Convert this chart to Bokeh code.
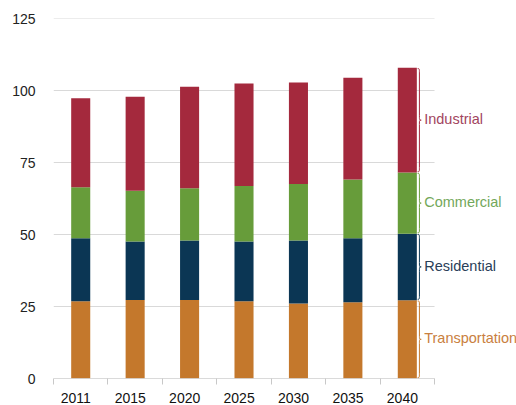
from bokeh.plotting import figure
from bokeh.models import Range1d, FixedTicker, ColumnDataSource
from bokeh.core.properties import value
from bokeh.embed import file_html
from bokeh.resources import INLINE

# Energy consumption by sector (quadrillion Btu), stacked by year
years = ["2011", "2015", "2020", "2025", "2030", "2035", "2040"]
transportation = [26.8, 27.3, 27.3, 26.8, 26.0, 26.5, 27.2]
residential = [21.9, 20.3, 20.6, 20.8, 21.9, 22.2, 23.1]
commercial = [17.7, 17.6, 18.2, 19.2, 19.6, 20.4, 21.2]
industrial = [30.9, 32.6, 35.2, 35.6, 35.3, 35.3, 36.4]

sectors = ["Transportation", "Residential", "Commercial", "Industrial"]
bar_colors = ["#c4782c", "#0b3654", "#679c3a", "#a4293d"]
text_colors = ["#c98040", "#2a4058", "#73a85a", "#a24560"]
y_ticks = [0, 25, 50, 75, 100, 125]

FONT = "Liberation Sans"
n = len(years)
# room to the right of the last category for the sector braces and names
side = 1.506

p = figure(width=516, height=405, output_backend="svg", toolbar_location=None,
           x_range=Range1d(0, n + side), y_range=Range1d(0, 125),
           min_border_left=53, min_border_right=0, min_border_top=18,
           min_border_bottom=27)
p.outline_line_color = None
p.background_fill_color = "white"
p.border_fill_color = "white"
p.xgrid.grid_line_color = None
p.ygrid.grid_line_color = None

# horizontal grid lines across the category area only
p.segment(x0=[0] * len(y_ticks), x1=[n] * len(y_ticks), y0=y_ticks, y1=y_ticks,
          line_color="#d9d9d9", line_width=1)

xs = [i + 0.5 for i in range(n)]
src = ColumnDataSource(dict(x=xs, transportation=transportation,
                            residential=residential, commercial=commercial,
                            industrial=industrial))
p.vbar_stack(["transportation", "residential", "commercial", "industrial"],
             x="x", width=0.35, source=src, color=bar_colors, line_color=None)

# category axis line
p.segment(x0=[0], x1=[n], y0=[0], y1=[0], line_color="#c8c8c8", line_width=1)

# y axis: labels only
p.yaxis.ticker = FixedTicker(ticks=y_ticks)
p.yaxis.axis_line_color = None
p.yaxis.major_tick_line_color = None
p.yaxis.minor_tick_line_color = None
p.yaxis.major_label_standoff = 12
p.yaxis.major_label_text_font = FONT
p.yaxis.major_label_text_font_size = "14px"
p.yaxis.major_label_text_color = "#222222"

# x axis: year labels under the bars (set slightly left), ticks between categories
label_pos = [x - 0.09 for x in xs]
p.xaxis.ticker = FixedTicker(ticks=label_pos, minor_ticks=list(range(n + 1)))
p.xaxis.major_label_overrides = {x: y for x, y in zip(label_pos, years)}
p.xaxis.axis_line_color = None
p.xaxis.major_tick_line_color = None
p.xaxis.major_tick_out = 0
p.xaxis.major_tick_in = 0
p.xaxis.minor_tick_line_color = "#c8c8c8"
p.xaxis.minor_tick_out = 6
p.xaxis.minor_tick_in = 0
p.xaxis.major_label_standoff = 8
p.xaxis.major_label_text_font = FONT
p.xaxis.major_label_text_font_size = "14px"
p.xaxis.major_label_text_color = "#111111"

# braces and sector names beside the last bar
last = n - 1
xb = xs[last] + 0.35 / 2 + 0.015
w = 0.065
bottoms = [0.0]
for s in (transportation, residential, commercial):
    bottoms.append(bottoms[-1] + s[last])
tops = bottoms[1:] + [bottoms[-1] + industrial[last]]

label_x, label_y = [], []
for y0, y1, col in zip(bottoms, tops, bar_colors):
    a, b = y0 + 0.3, y1 - 0.3
    m = (a + b) / 2
    h = min(1.5, (b - a) / 6)
    mid = xb + w / 2
    p.bezier(x0=[xb, xb + w], y0=[b, m], x1=[mid, mid], y1=[b - h, m + h],
             cx0=[mid, mid], cy0=[b, m], cx1=[mid, mid], cy1=[b, m],
             line_color=col, line_width=1)
    p.bezier(x0=[xb + w, xb], y0=[m, a], x1=[mid, mid], y1=[m - h, a + h],
             cx0=[mid, mid], cy0=[m, a], cx1=[mid, mid], cy1=[m, a],
             line_color=col, line_width=1)
    p.segment(x0=[mid, mid], y0=[b - h, m - h], x1=[mid, mid], y1=[m + h, a + h],
              line_color=col, line_width=1)
    label_x.append(xb + w)
    label_y.append(m)

p.text(x=label_x, y=label_y, text=sectors, x_offset=3, y_offset=-1,
       text_font=value(FONT), text_font_size="14.5px", text_color=text_colors,
       text_baseline="middle", text_align="left")

html = file_html(p, INLINE)
open("out.html", "w").write(html)
